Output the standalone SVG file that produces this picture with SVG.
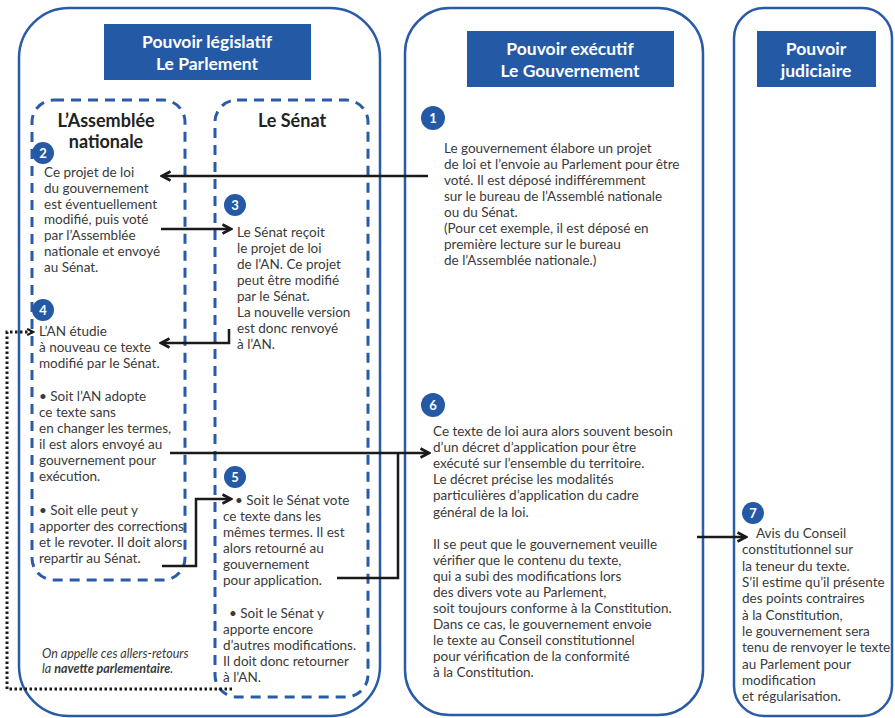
<svg xmlns="http://www.w3.org/2000/svg" width="895" height="718" viewBox="0 0 895 718">
<style>
.frame{fill:none;stroke:#2a5ba6;stroke-width:2.5}
.dash{fill:none;stroke:#2a5ba6;stroke-width:3;stroke-dasharray:10 7}
.title{fill:#2459a6}
.tt{font-family:Lato,"Liberation Sans",sans-serif;font-weight:bold;font-size:17.5px;fill:#fff;text-anchor:middle}
.hd{font-family:Lato,"Liberation Sans",sans-serif;font-weight:bold;font-size:18px;fill:#222;text-anchor:middle}
.bd{font-family:Lato,"Liberation Sans",sans-serif;font-size:13.5px;fill:#3a3a3a}
.it{font-family:Lato,"Liberation Sans",sans-serif;font-size:12.5px;font-style:italic;fill:#3a3a3a}
.badge circle{fill:#2459a6}
.badge text{font-family:Lato,"Liberation Sans",sans-serif;font-weight:bold;font-size:13px;fill:#fff;text-anchor:middle}
.ar{fill:none;stroke:#1a1a1a;stroke-width:2.5}
.dot{fill:none;stroke:#1a1a1a;stroke-width:3;stroke-dasharray:2.5 2.5}
</style>
<defs>
<marker id="ah" viewBox="0 0 12 12" refX="10" refY="6" markerWidth="12" markerHeight="12" markerUnits="userSpaceOnUse" orient="auto">
<path d="M1.5,1.5 L10,6 L1.5,10.5" fill="none" stroke="#1a1a1a" stroke-width="2.6"/>
</marker>
<marker id="ahs" viewBox="0 0 10 10" refX="8" refY="5" markerWidth="9" markerHeight="9" markerUnits="userSpaceOnUse" orient="auto">
<path d="M1.5,1.5 L8,5 L1.5,8.5" fill="none" stroke="#1a1a1a" stroke-width="2.4"/>
</marker>
</defs>
<rect width="895" height="718" fill="#fff"/>

<g id="legislatif">
<rect class="frame" x="19" y="8" width="361" height="708" rx="50"/>
<rect class="title" x="104" y="24" width="207" height="56"/>
<text class="tt" x="207" y="48">Pouvoir législatif</text>
<text class="tt" x="207" y="70">Le Parlement</text>
</g>

<g id="assemblee">
<rect class="dash" x="32" y="100" width="153" height="480" rx="22"/>
<text class="hd" x="106" y="127">L’Assemblée</text>
<text class="hd" x="106" y="148">nationale</text>
</g>

<g id="senat">
<rect class="dash" x="215" y="100" width="153" height="597" rx="22"/>
<text class="hd" x="292" y="127">Le Sénat</text>
</g>

<g id="executif">
<rect class="frame" x="405" y="8" width="298" height="707" rx="45"/>
<rect class="title" x="467" y="31" width="207" height="56"/>
<text class="tt" x="570" y="55">Pouvoir exécutif</text>
<text class="tt" x="570" y="77">Le Gouvernement</text>
</g>

<g id="judiciaire">
<rect class="frame" x="734" y="8" width="158" height="708" rx="30"/>
<rect class="title" x="757" y="31" width="119" height="56"/>
<text class="tt" x="816" y="55">Pouvoir</text>
<text class="tt" x="816" y="77">judiciaire</text>
</g>

<g id="etape1">
<g class="badge"><circle cx="433" cy="118" r="12"/><text x="433" y="123">1</text></g>
<text class="bd">
<tspan x="444" y="153">Le gouvernement élabore un projet</tspan>
<tspan x="444" y="169">de loi et l’envoie au Parlement pour être</tspan>
<tspan x="444" y="185">voté. Il est déposé indifféremment</tspan>
<tspan x="444" y="201">sur le bureau de  l’Assemblé nationale</tspan>
<tspan x="444" y="217">ou du Sénat.</tspan>
<tspan x="444" y="233">(Pour cet exemple, il est déposé en</tspan>
<tspan x="444" y="249">première lecture sur le bureau</tspan>
<tspan x="444" y="265">de l’Assemblée nationale.)</tspan>
</text>
</g>

<g id="etape2">
<g class="badge"><circle cx="43" cy="153" r="11"/><text x="43" y="158">2</text></g>
<text class="bd">
<tspan x="44" y="177">Ce projet de loi</tspan>
<tspan x="44" y="193">du gouvernement</tspan>
<tspan x="44" y="209">est éventuellement</tspan>
<tspan x="44" y="224">modifié, puis voté</tspan>
<tspan x="44" y="240">par l’Assemblée</tspan>
<tspan x="44" y="256">nationale et envoyé</tspan>
<tspan x="44" y="272">au Sénat.</tspan>
</text>
</g>

<g id="etape3">
<g class="badge"><circle cx="235" cy="205" r="11"/><text x="235" y="210">3</text></g>
<text class="bd">
<tspan x="237" y="237">Le Sénat reçoit</tspan>
<tspan x="237" y="253">le projet de loi</tspan>
<tspan x="237" y="269">de l’AN. Ce projet</tspan>
<tspan x="237" y="285">peut être modifié</tspan>
<tspan x="237" y="301">par le Sénat.</tspan>
<tspan x="237" y="317">La nouvelle version</tspan>
<tspan x="237" y="333">est donc renvoyé</tspan>
<tspan x="237" y="349">à l’AN.</tspan>
</text>
</g>

<g id="etape4">
<g class="badge"><circle cx="43" cy="310" r="11"/><text x="43" y="315">4</text></g>
<text class="bd">
<tspan x="39" y="336">L’AN étudie</tspan>
<tspan x="39" y="352">à nouveau ce texte</tspan>
<tspan x="39" y="368">modifié par le Sénat.</tspan>
<tspan x="39" y="401">• Soit l’AN adopte</tspan>
<tspan x="39" y="417">ce texte sans</tspan>
<tspan x="39" y="433">en changer les termes,</tspan>
<tspan x="39" y="449">il est alors envoyé au</tspan>
<tspan x="39" y="465">gouvernement pour</tspan>
<tspan x="39" y="481">exécution.</tspan>
<tspan x="39" y="515">• Soit elle peut y</tspan>
<tspan x="39" y="531">apporter des corrections</tspan>
<tspan x="39" y="547">et le revoter. Il doit alors</tspan>
<tspan x="39" y="563">repartir au Sénat.</tspan>
</text>
<text class="it">
<tspan x="42" y="658">On appelle ces allers-retours</tspan>
<tspan x="42" y="673">la <tspan font-weight="bold">navette parlementaire</tspan>.</tspan>
</text>
</g>

<g id="etape5">
<g class="badge"><circle cx="235" cy="477" r="11"/><text x="235" y="482">5</text></g>
<text class="bd">
<tspan x="235" y="505">• Soit le Sénat vote</tspan>
<tspan x="223" y="521">ce texte dans les</tspan>
<tspan x="223" y="537">mêmes termes. Il est</tspan>
<tspan x="223" y="553">alors retourné au</tspan>
<tspan x="223" y="569">gouvernement</tspan>
<tspan x="223" y="585">pour application.</tspan>
<tspan x="229" y="618">• Soit le Sénat y</tspan>
<tspan x="223" y="634">apporte encore</tspan>
<tspan x="223" y="650">d’autres modifications.</tspan>
<tspan x="223" y="666">Il doit donc retourner</tspan>
<tspan x="223" y="682">à l’AN.</tspan>
</text>
</g>

<g id="etape6">
<g class="badge"><circle cx="433" cy="405" r="12"/><text x="433" y="410">6</text></g>
<text class="bd">
<tspan x="433" y="436">Ce texte de loi aura alors souvent besoin</tspan>
<tspan x="433" y="452">d’un décret d’application pour être</tspan>
<tspan x="433" y="468">exécuté sur l’ensemble du territoire.</tspan>
<tspan x="433" y="484">Le décret précise les modalités</tspan>
<tspan x="433" y="500">particulières d’application  du cadre</tspan>
<tspan x="433" y="517">général de la loi.</tspan>
<tspan x="433" y="549">Il se peut que le gouvernement veuille</tspan>
<tspan x="433" y="565">vérifier que le contenu du texte,</tspan>
<tspan x="433" y="581">qui a subi des modifications lors</tspan>
<tspan x="433" y="597">des divers vote au Parlement,</tspan>
<tspan x="433" y="613">soit toujours conforme à la Constitution.</tspan>
<tspan x="433" y="629">Dans ce cas, le gouvernement envoie</tspan>
<tspan x="433" y="645">le texte au Conseil constitutionnel</tspan>
<tspan x="433" y="661">pour vérification de la conformité</tspan>
<tspan x="433" y="677">à la Constitution.</tspan>
</text>
</g>

<g id="etape7">
<g class="badge"><circle cx="753" cy="513" r="11"/><text x="753" y="518">7</text></g>
<text class="bd">
<tspan x="756" y="538">Avis du Conseil</tspan>
<tspan x="742" y="554">constitutionnel sur</tspan>
<tspan x="742" y="571">la teneur du texte.</tspan>
<tspan x="742" y="587">S’il estime qu’il présente</tspan>
<tspan x="742" y="603">des points contraires</tspan>
<tspan x="742" y="620">à la Constitution,</tspan>
<tspan x="742" y="636">le gouvernement sera</tspan>
<tspan x="742" y="652">tenu de renvoyer le texte</tspan>
<tspan x="742" y="669">au Parlement pour</tspan>
<tspan x="742" y="685">modification</tspan>
<tspan x="742" y="701">et régularisation.</tspan>
</text>
</g>

<g id="connecteurs">
<path class="ar" d="M428,176 H162" marker-end="url(#ah)"/>
<path class="ar" d="M161,229 H231" marker-end="url(#ah)"/>
<path class="ar" d="M229,329 V343 H161" marker-end="url(#ah)"/>
<path class="ar" d="M170,453 H429" marker-end="url(#ah)"/>
<path class="ar" d="M337,578 H398 V453"/>
<path class="ar" d="M162,566 H196 V499 H231" marker-end="url(#ah)"/>
<path class="ar" d="M697,537 H746" marker-end="url(#ah)"/>
<path class="dot" d="M232,689 H7 V332 H33" marker-end="url(#ahs)"/>
</g>
</svg>
